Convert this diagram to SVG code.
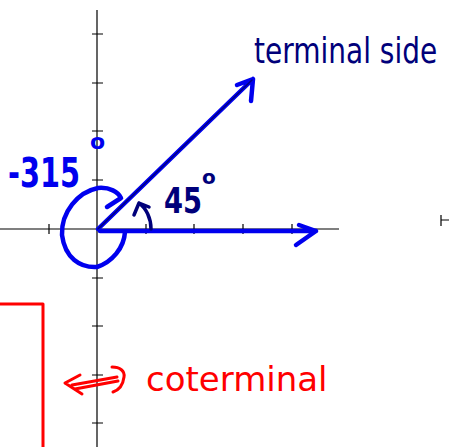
<svg xmlns="http://www.w3.org/2000/svg" width="449" height="447" viewBox="0 0 449 447">
<style>
.ax{stroke:#000;stroke-width:1.2;fill:none}
.blue{stroke:#0000ee;stroke-width:4.5;fill:none;stroke-linecap:round;stroke-linejoin:round}
.core{stroke:#000080;stroke-width:1.5;fill:none;stroke-linecap:round}
.navy{stroke:#00007a;stroke-width:3.5;fill:none;stroke-linecap:round;stroke-linejoin:round}
.red{stroke:#ff0000;stroke-width:3;fill:none;stroke-linecap:round;stroke-linejoin:round}
.hw{font-family:"DejaVu Sans",sans-serif}
</style>
<rect width="449" height="447" fill="#fff"/>
<g id="axes">
<path class="ax" d="M97 10V447M0 229H339"/>
<path class="ax" d="M92 34H103M92 83H103M92 131H103M92 180H103M92 278H103M92 326H103M92 375H103M92 423H103"/>
<path class="ax" d="M49 224V234M146 224V234M194 224V234M243 224V234M292 224V234"/>
<path class="ax" d="M441 215V226M441 220H449"/>
</g>
<g id="red-box"><path class="red" d="M0 304H43V447"/></g>
<g id="connectors">
<path class="blue" d="M98 229L253 79M253 79L237 85M253 79L251 101"/>
<path class="core" d="M98 229L252 80"/>
<path class="blue" d="M100 231H316M316 231L299 225M316 231L296 245"/>
<path class="blue" d="M125 232C124 248 112 262 97 267C80 268 65 258 62 235C61 212 78 192 98 188C110 187 118 192 121 198M121 198L107 207"/>
<path class="navy" d="M151 229C151 218 146 208 139 203M139 203L134 215M139 203L149 207"/>
<path class="red" d="M65 383L80 375M65 383L82 394M72 385L117 377M75 389L118 381M112 367C120 367 125 371 124 377C123 385 119 390 113 392"/>
</g>
<g id="label-315"><text class="hw" font-weight="bold" fill="#0000ee" font-size="40" transform="translate(8,187) scale(0.72,1)">-315</text><text class="hw" font-weight="bold" fill="#0000ee" font-size="22" x="90" y="149">o</text></g>
<g id="label-45"><text class="hw" font-weight="bold" fill="#00007a" font-size="36" transform="translate(164,213) scale(0.76,1)">45</text><text class="hw" font-weight="bold" fill="#00007a" font-size="20" x="202" y="184">o</text></g>
<g id="label-terminal"><text class="hw" font-size="28" fill="#00007a" transform="translate(254,63) scale(1,1.25)">terminal side</text></g>
<g id="label-coterminal"><text class="hw" font-size="34" fill="#ff0000" x="146" y="391">coterminal</text></g>
</svg>
